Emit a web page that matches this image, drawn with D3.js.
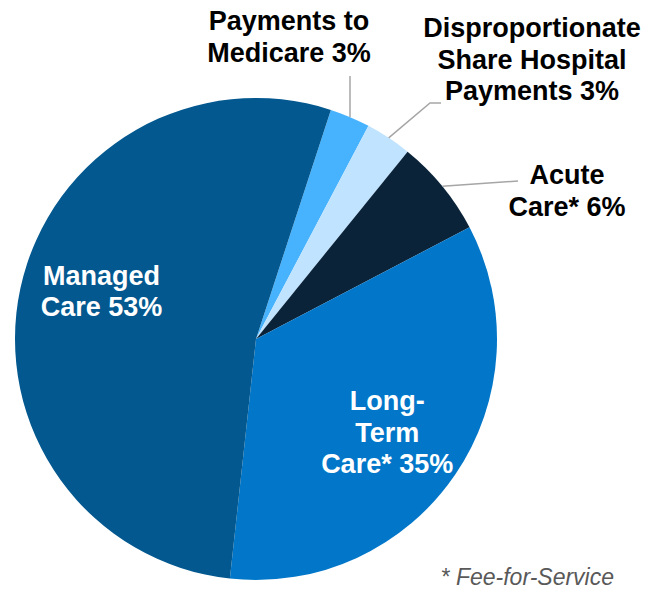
<!DOCTYPE html>
<html>
<head>
<meta charset="utf-8">
<script src="https://cdn.jsdelivr.net/npm/d3@7"></script>
<style>
  body { margin: 0; background: #fff; }
  text { font-family: "Liberation Sans", Arial, sans-serif; }
</style>
</head>
<body>
<div id="chart"></div>
<script>
// slice data, clockwise from the top
const categories = ["Payments to Medicare", "Disproportionate Share Hospital Payments", "Acute Care*", "Long-Term Care*", "Managed Care"];
const shares = [2.7, 3.1, 6.5, 34.4, 53.3];
const pctLabels = ["3%", "3%", "6%", "35%", "53%"];
const colors = ["#47B3FF", "#C0E3FF", "#0A2339", "#0277C9", "#03588F"];

// label lines (text split as in the reference)
const labelLines = [
  ["Payments to", "Medicare 3%"],
  ["Disproportionate", "Share Hospital", "Payments 3%"],
  ["Acute", "Care* 6%"],
  ["Long-", "Term", "Care* 35%"],
  ["Managed", "Care 53%"]
];

const width = 661, height = 593;
const cx = 256, cy = 339, radius = 241;
const lineH = 31.5;
const fontSize = 27;

const svg = d3.select("#chart")
  .append("svg")
  .attr("width", width)
  .attr("height", height);

const g = svg.append("g")
  .attr("transform", `translate(${cx},${cy})`);

const pie = d3.pie()
  .sort(null)
  .value(d => d)
  .startAngle(18.1 * Math.PI / 180)
  .endAngle(18.1 * Math.PI / 180 + 2 * Math.PI);

const arcs = pie(shares);

const arc = d3.arc().innerRadius(0).outerRadius(radius);
const edgeArc = d3.arc().innerRadius(radius).outerRadius(radius);
const insideArc = d3.arc().innerRadius(160).outerRadius(160);

g.selectAll("path.slice")
  .data(arcs)
  .join("path")
  .attr("class", "slice")
  .attr("d", arc)
  .attr("fill", (d, i) => colors[i]);

// outside labels: leader line bends and text block placement (relative to centre)
const outside = [
  { i: 0, pts: [[94, -263]], tx: 33, ty: -309 },
  { i: 1, pts: [[174, -236], [185, -236]], tx: 276, ty: -302 },
  { i: 2, pts: [[262, -158]], tx: 311, ty: -155 }
];

outside.forEach(o => {
  const start = edgeArc.centroid(arcs[o.i]);
  g.append("path")
    .attr("d", d3.line()([start, ...o.pts]))
    .attr("fill", "none")
    .attr("stroke", "#A6A6A6")
    .attr("stroke-width", 1.5);
  const t = g.append("text")
    .attr("text-anchor", "middle")
    .attr("font-weight", "bold")
    .attr("font-size", fontSize)
    .attr("fill", "#000");
  labelLines[o.i].forEach((s, k) => {
    t.append("tspan").attr("x", o.tx).attr("y", o.ty + k * lineH).text(s);
  });
});

// inside labels on the two big slices (nudged from the slice centroid)
const inside = [
  { i: 3, dx: -1, dy: 12.5 },
  { i: 4, dx: 2, dy: -5 }
];

inside.forEach(o => {
  const [x, y] = insideArc.centroid(arcs[o.i]);
  const n = labelLines[o.i].length;
  const t = g.append("text")
    .attr("text-anchor", "middle")
    .attr("font-weight", "bold")
    .attr("font-size", fontSize)
    .attr("fill", "#fff");
  labelLines[o.i].forEach((s, k) => {
    t.append("tspan")
      .attr("x", x + o.dx)
      .attr("y", y + o.dy + (k - (n - 1) / 2) * lineH)
      .text(s);
  });
});

svg.append("text")
  .attr("x", 614)
  .attr("y", 585)
  .attr("text-anchor", "end")
  .attr("font-style", "italic")
  .attr("font-size", 23)
  .attr("fill", "#595959")
  .text("* Fee-for-Service");
</script>
</body>
</html>
